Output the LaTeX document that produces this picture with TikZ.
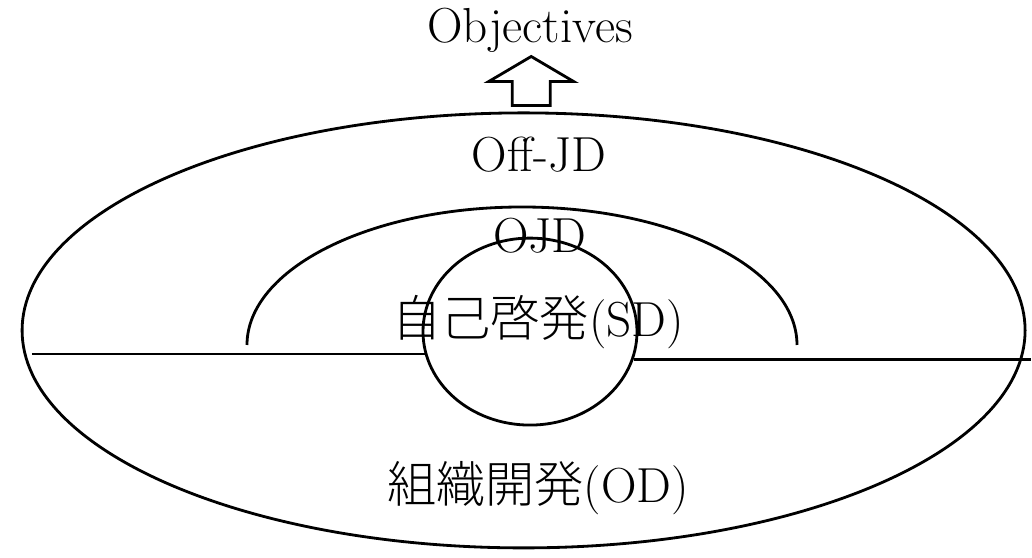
\documentclass[tikz,border=0pt]{standalone}
\usepackage{fontspec}
\newfontfamily\jpfont{Noto Sans CJK JP}[UprightFont={* Light}]
\usetikzlibrary{shapes.geometric,positioning,calc}

\begin{document}
\begin{tikzpicture}[line width=2pt,
  lbl/.style={anchor=base,inner sep=0pt,font=\fontsize{35}{40}\selectfont},
  ring/.style={draw,ellipse,inner sep=0pt}]

  \fill[white] (0,0) rectangle (25.8,13.95);
  \useasboundingbox (0,0) rectangle (25.8,13.95);

  % Ellipses
  \node[ring,minimum width=25.075cm,minimum height=10.875cm] (org) at (13.09,5.69) {};
  \draw (6.175,5.325) arc[start angle=180,end angle=0,x radius=6.875cm,y radius=3.45cm];
  \node[ring,minimum width=5.35cm,minimum height=4.675cm] (self) at (13.25,5.66) {};

  % Lignes horizontales
  \coordinate (gl) at ($(self.192 -| org.west)+(0.28,0)$);
  \coordinate (gr) at ($(self.345 -| org.east)+(0.1,0)$);
  \draw (gl) -- (self.192);
  \draw (self.345) -- (gr);

  % Textes
  \node[lbl] (obj)   at (13.25,12.875) {Objectives};
  \node[lbl] (offjd) at (13.475,9.65)  {Off-JD};
  \node[lbl] (ojd)   at (13.5,7.625)   {OJD};
  \node[lbl] (sdtxt) at (13.45,5.525)  {{\jpfont 自己啓発}(SD)};
  \node[lbl] (odtxt) at (13.45,1.375)  {{\jpfont 組織開発}(OD)};

  % Flèche
  \coordinate (ab) at ($(org.north)+(0.19,0.15)$);
  \draw[line join=miter] ($(ab)+(-0.475,0)$) -- ++(0,0.6) -- ++(-0.585,0)
    -- ($(ab)+(0,1.225)$) -- ++(1.06,-0.625) -- ++(-0.585,0) -- ++(0,-0.6) -- cycle;
\end{tikzpicture}
\end{document}
